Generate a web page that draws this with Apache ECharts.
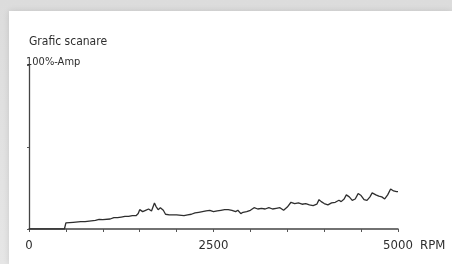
<!DOCTYPE html>
<html>
<head>
<meta charset="utf-8">
<script src="https://cdn.jsdelivr.net/npm/echarts@6/dist/echarts.min.js"></script>
<style>
    html, body { margin: 0; padding: 0; }
    body {
        width: 452px; height: 264px; position: relative; overflow: hidden;
        background: linear-gradient(180deg, #dcdcdc 0%, #e6e6e6 100%);
    }
    #panel {
        position: absolute; left: 9px; top: 11px; right: 0; bottom: 0;
        background: #fff; box-shadow: 0 0 6px rgba(0, 0, 0, 0.12);
    }
    #chart { position: absolute; left: 0; top: 0; width: 452px; height: 264px; }
</style>
</head>
<body>
<div id="panel"></div>
<div id="chart"></div>
<script>
    // turatie (RPM) si amplitudine (%)
    const rpm = [0, 480, 500, 600, 700, 760, 780, 900, 950, 1000, 1100, 1150, 1200, 1250, 1300, 1350, 1400, 1450,
        1480, 1500, 1540, 1580, 1620, 1660, 1700, 1720, 1750, 1780, 1820, 1850, 1900, 2000, 2100, 2150,
        2200, 2250, 2300, 2350, 2400, 2450, 2500, 2550, 2600, 2650, 2700, 2750, 2800, 2830, 2870, 2900,
        2950, 3000, 3050, 3100, 3150, 3200, 3250, 3300, 3350, 3400, 3450, 3500, 3550, 3600, 3650, 3700,
        3750, 3800, 3850, 3900, 3930, 3960, 4000, 4050, 4100, 4150, 4200, 4230, 4270, 4300, 4340, 4380,
        4420, 4460, 4500, 4540, 4580, 4620, 4650, 4700, 4740, 4780, 4820, 4860, 4900, 4940, 4980, 5000];
    const amp = [0, 0, 3.7, 4.1, 4.5, 4.5, 5.1, 5.3, 5.9, 5.7, 6.1, 6.9, 6.9, 7.3, 7.7, 7.7, 8.1, 8.1,
        9.4, 11.8, 10.6, 11.4, 12.2, 11.0, 15.9, 13.8, 11.8, 13.0, 11.4, 9.0, 8.6, 8.6, 8.1, 8.6,
        9.0, 9.8, 10.2, 10.6, 11.0, 11.4, 10.6, 11.0, 11.4, 11.8, 11.8, 11.4, 10.6, 11.4, 9.4, 10.2,
        10.6, 11.4, 13.0, 12.2, 12.6, 12.2, 13.0, 12.2, 12.6, 13.0, 11.4, 13.4, 16.3, 15.5, 15.9, 15.1,
        15.5, 14.7, 14.3, 15.1, 17.9, 16.7, 15.5, 14.7, 15.9, 16.3, 17.5, 16.7, 18.3, 20.8, 19.6, 17.5,
        18.3, 21.6, 20.4, 17.9, 17.5, 19.6, 22.0, 20.8, 20.0, 19.6, 18.3, 20.8, 24.4, 23.2, 22.8, 22.8];
    const xLabels = [0, 2500, 5000];

    const ink = '#2e2e2e';
    const font = "'DejaVu Sans Condensed', sans-serif";

    const option = {
        animation: false,
        title: {
            text: 'Grafic scanare',
            left: 24,
            top: 31,
            textStyle: { fontFamily: font, fontSize: 12, fontWeight: 'normal', color: ink }
        },
        grid: { left: 29, right: 54, top: 65, bottom: 35 },
        xAxis: {
            type: 'value',
            min: 0,
            max: 5000,
            interval: 500,
            name: 'RPM',
            nameLocation: 'end',
            nameGap: 22,
            nameTextStyle: {
                fontFamily: font, fontSize: 13, color: ink,
                verticalAlign: 'top', padding: [10, 0, 0, 0]
            },
            axisLine: { show: true, lineStyle: { color: '#444', width: 1.5 } },
            axisTick: { show: true, length: 3, lineStyle: { color: '#555' } },
            splitLine: { show: false },
            axisLabel: {
                margin: 10,
                fontFamily: font,
                fontSize: 13,
                color: ink,
                formatter: v => xLabels.includes(v) ? String(v) : ''
            }
        },
        yAxis: {
            type: 'value',
            min: 0,
            max: 100,
            interval: 50,
            name: '100%-Amp',
            nameLocation: 'end',
            nameGap: -3,
            nameTextStyle: {
                fontFamily: font, fontSize: 11, color: ink,
                align: 'left', padding: [0, 0, 0, -3]
            },
            axisLine: { show: true, lineStyle: { color: '#444', width: 1.3 } },
            axisTick: { show: true, length: 2, lineStyle: { color: '#555' } },
            splitLine: { show: false },
            axisLabel: { show: false }
        },
        series: [{
            type: 'line',
            data: rpm.map((r, i) => [r, amp[i]]),
            showSymbol: false,
            lineStyle: { color: ink, width: 1.3 }
        }]
    };

    const myChart = echarts.init(document.getElementById('chart'));
    myChart.setOption(option);
    window.addEventListener('resize', () => {
        myChart.resize();
    });
</script>
</body>
</html>
